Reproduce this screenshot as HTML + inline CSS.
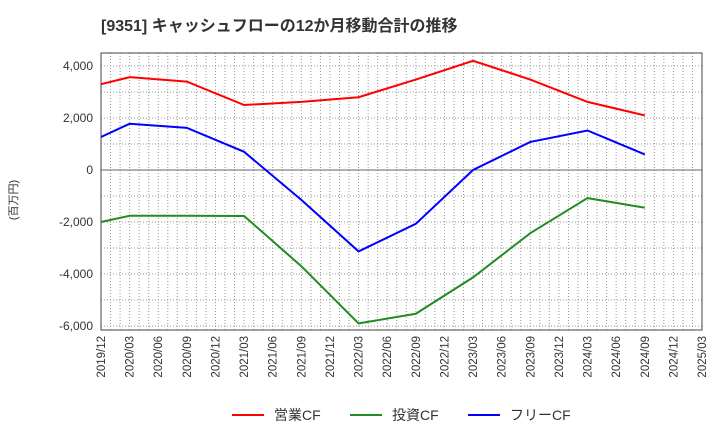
<!DOCTYPE html>
<html><head><meta charset="utf-8"><style>
body{margin:0;background:#fff;width:720px;height:440px;overflow:hidden;font-family:"Liberation Sans","Noto Sans CJK JP",sans-serif;}
</style></head><body>
<svg id="c" width="720" height="440" xmlns="http://www.w3.org/2000/svg">
<text x="101" y="31" font-size="16" font-weight="bold" fill="#333" font-family="Liberation Sans, Noto Sans CJK JP, sans-serif">[9351]  キャッシュフローの12か月移動合計の推移</text>
<text transform="translate(17,200) rotate(-90)" text-anchor="middle" font-size="11" fill="#333" font-family="Liberation Sans, Noto Sans CJK JP, sans-serif">(百万円)</text>
</svg>
<script>
const categories=["2019/12","2020/03","2020/06","2020/09","2020/12","2021/03","2021/06","2021/09","2021/12","2022/03","2022/06","2022/09","2022/12","2023/03","2023/06","2023/09","2023/12","2024/03","2024/06","2024/09","2024/12","2025/03"];
const pointIdx=[0,1,3,5,7,9,11,13,15,17,19];
const eigyo=[3300,3570,3400,2500,2620,2800,3480,4200,3480,2620,2100];
const toshi=[-2000,-1760,-1760,-1770,-3700,-5900,-5530,-4130,-2430,-1080,-1450];
const free=[1270,1780,1620,700,-1150,-3130,-2070,0,1080,1520,600];
const yTicks=[4000,2000,0,-2000,-4000,-6000];
const yTickLabels=["4,000","2,000","0","-2,000","-4,000","-6,000"];
const L=101,R=702,T=53,B=330;
const NS="http://www.w3.org/2000/svg";
const svg=document.getElementById('c');
function x(i){return L+(R-L)*i/(categories.length-1);}
function y(v){return 170-v*0.026;}
function el(t,a,p){const e=document.createElementNS(NS,t);for(const k in a)e.setAttribute(k,a[k]);(p||svg).appendChild(e);return e;}
el('rect',{x:L,y:T,width:R-L,height:B-T,fill:'#fff'});
for(let m=1;m<(categories.length-1)*3;m++){const g=el('line',{x1:L+(R-L)*m/((categories.length-1)*3),x2:L+(R-L)*m/((categories.length-1)*3),y1:T,y2:B,stroke:'#999','stroke-dasharray':'1,2','stroke-width':1});

}
for(let v=-6000;v<=4000;v+=1000){if(v===0)continue;const g=el('line',{x1:L,x2:R,y1:y(v),y2:y(v),stroke:'#999','stroke-dasharray':'1,2'});

}
const z=el('line',{x1:L,x2:R,y1:y(0),y2:y(0),stroke:'#666'});


const fr=el('rect',{x:L,y:T,width:R-L,height:B-T,fill:'none',stroke:'#444'});


yTicks.forEach((v,i)=>{const t=el('text',{x:L-8,y:y(v)+4,'text-anchor':'end','font-size':12,fill:'#333'});t.textContent=yTickLabels[i];

});
categories.forEach((c,i)=>{const t=el('text',{transform:`translate(${x(i)+4},336) rotate(-90)`,'text-anchor':'end','font-size':11.5,fill:'#333'});t.textContent=c;

});
function series(vals,color,name){const p=el('polyline',{points:vals.map((v,i)=>x(pointIdx[i])+','+y(v)).join(' '),fill:'none',stroke:color,'stroke-width':2});

}
series(eigyo,'#ff0000','eigyo-cf-line');
series(toshi,'#228b22','toshi-cf-line');
series(free,'#0000ff','free-cf-line');
const leg=[["営業CF","#ff0000",232],["投資CF","#228b22",350],["フリーCF","#0000ff",468]];
leg.forEach(l=>{const g=el('g',{});


el('line',{x1:l[2],x2:l[2]+32,y1:415,y2:415,stroke:l[1],'stroke-width':2},g);
const t=el('text',{x:l[2]+42,y:420,'font-size':14,fill:'#333'},g);t.textContent=l[0];});
</script>
</body></html>
